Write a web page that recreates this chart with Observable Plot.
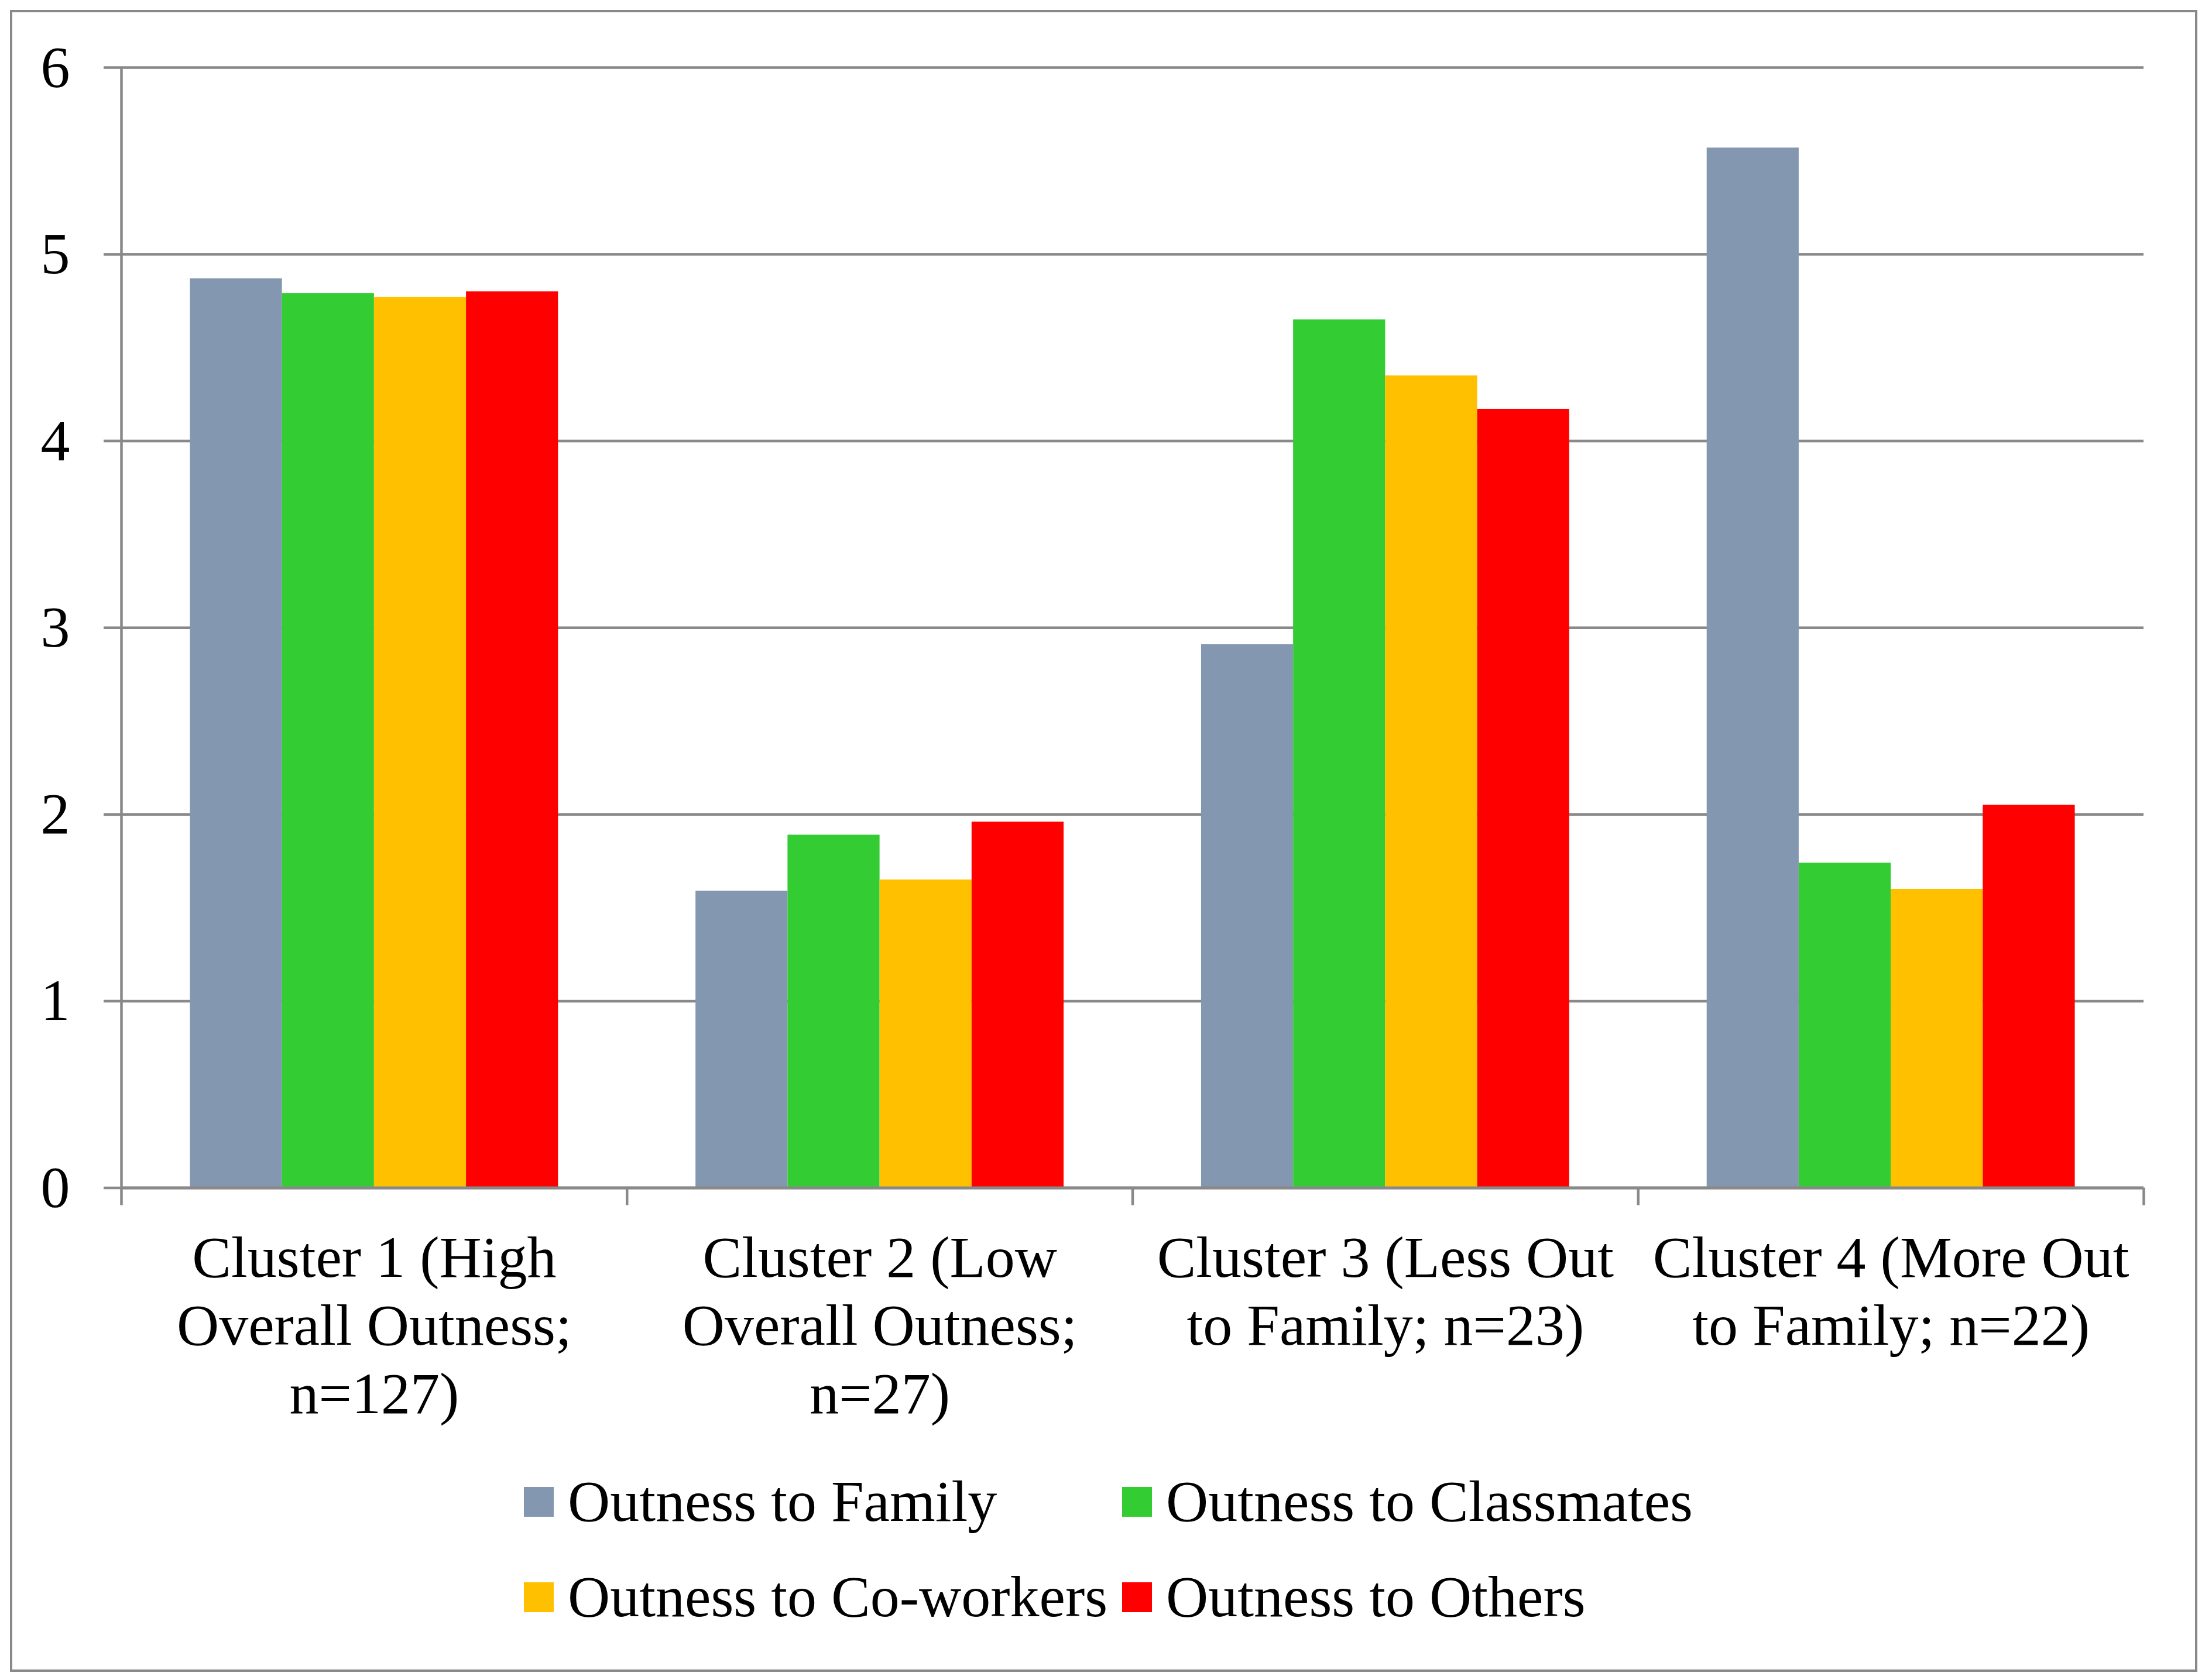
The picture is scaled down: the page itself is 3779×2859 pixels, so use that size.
<!DOCTYPE html>
<html>
<head>
<meta charset="utf-8">
<script src="https://cdn.jsdelivr.net/npm/d3@7"></script>
<script src="https://cdn.jsdelivr.net/npm/@observablehq/plot@0.6"></script>
<style>
  html, body { margin: 0; padding: 0; background: #fff; }
  #page { position: relative; width: 3779px; height: 2859px; overflow: hidden; font-family: "Liberation Serif", "Times New Roman", serif; }
  #frame { position: absolute; left: 17px; top: 17px; width: 3737px; height: 2840px; border: 4px solid #898989; box-sizing: border-box; }
  #chart { position: absolute; left: 0; top: 0; }
  #legend { position: absolute; left: 895px; top: 2484px; display: grid; grid-template-columns: 1022px auto; }
  .item { position: relative; height: 163px; line-height: 163px; font-size: 100px; padding-left: 75px; white-space: nowrap; color: #000; }
  .sw { position: absolute; left: 0; top: 57px; width: 51px; height: 51px; }
</style>
</head>
<body>
<div id="page">
  <div id="frame"></div>
  <div id="chart"></div>
  <div id="legend"></div>
</div>
<script>
const clusters = [
  "Cluster 1 (High\nOverall Outness;\nn=127)",
  "Cluster 2 (Low\nOverall Outness;\nn=27)",
  "Cluster 3 (Less Out\nto Family; n=23)",
  "Cluster 4 (More Out\nto Family; n=22)"
];
const series = ["Outness to Family", "Outness to Classmates", "Outness to Co-workers", "Outness to Others"];
const family     = [4.87, 1.59, 2.91, 5.57];
const classmates = [4.79, 1.89, 4.65, 1.74];
const coworkers  = [4.77, 1.65, 4.35, 1.60];
const others     = [4.80, 1.96, 4.17, 2.05];
const yTicks = [0, 1, 2, 3, 4, 5, 6];
const colors = ["#8497B0", "#33CC33", "#FFC000", "#FF0000"];

const seriesValues = [family, classmates, coworkers, others];
const rows = [];
clusters.forEach((c, ci) => {
  series.forEach((s, si) => {
    rows.push({cluster: c, ci, series: s, value: seriesValues[si][ci]});
  });
});
const inner = d3.scaleBand().domain(series).range([0, 1]).paddingInner(0).paddingOuter(0.747);
const boundaries = d3.range(clusters.length + 1);
const labelRows = clusters.map((c, ci) => ({label: c, pos: ci + 0.5}));
const gray = "#898989";
const font = "Liberation Serif";

const chart = Plot.plot({
  width: 3779,
  height: 2480,
  marginLeft: 207,
  marginRight: 117,
  marginTop: 115,
  marginBottom: 450.5,
  style: {fontFamily: font, fontSize: "100px", background: "transparent", color: "#000"},
  x: {domain: [0, clusters.length], axis: null},
  y: {domain: [0, 6], axis: null},
  color: {domain: series, range: colors},
  marks: [
    Plot.gridY(yTicks, {stroke: gray, strokeOpacity: 1, strokeWidth: 4.5}),
    Plot.axisY(yTicks, {label: null, tickSize: 30, tickPadding: 58, stroke: gray, strokeWidth: 4.5, fill: "#000", fontSize: 100, fontFamily: font, tickFormat: d => String(d)}),
    Plot.axisX(boundaries, {label: null, tickSize: 30, stroke: gray, strokeWidth: 4.5, fill: "none"}),
    Plot.rectY(rows, {
      x1: d => d.ci + inner(d.series),
      x2: d => d.ci + inner(d.series) + inner.bandwidth(),
      y1: 0,
      y2: "value",
      fill: "series"
    }),
    Plot.ruleX([0], {y1: 0, y2: 6, stroke: gray, strokeWidth: 4.5}),
    Plot.ruleY([0], {stroke: gray, strokeWidth: 5}),
    Plot.text(labelRows, {x: "pos", y: 0, text: "label", lineAnchor: "top", lineHeight: 1.165, dy: 69, fontSize: 100, fontFamily: font, fill: "#000", textAnchor: "middle"})
  ]
});
document.getElementById("chart").appendChild(chart);

const legend = document.getElementById("legend");
[0, 1, 2, 3].forEach(i => {
  const item = document.createElement("div");
  item.className = "item";
  const sw = document.createElement("span");
  sw.className = "sw";
  sw.style.background = colors[i];
  item.appendChild(sw);
  item.appendChild(document.createTextNode(series[i]));
  legend.appendChild(item);
});
</script>
</body>
</html>
